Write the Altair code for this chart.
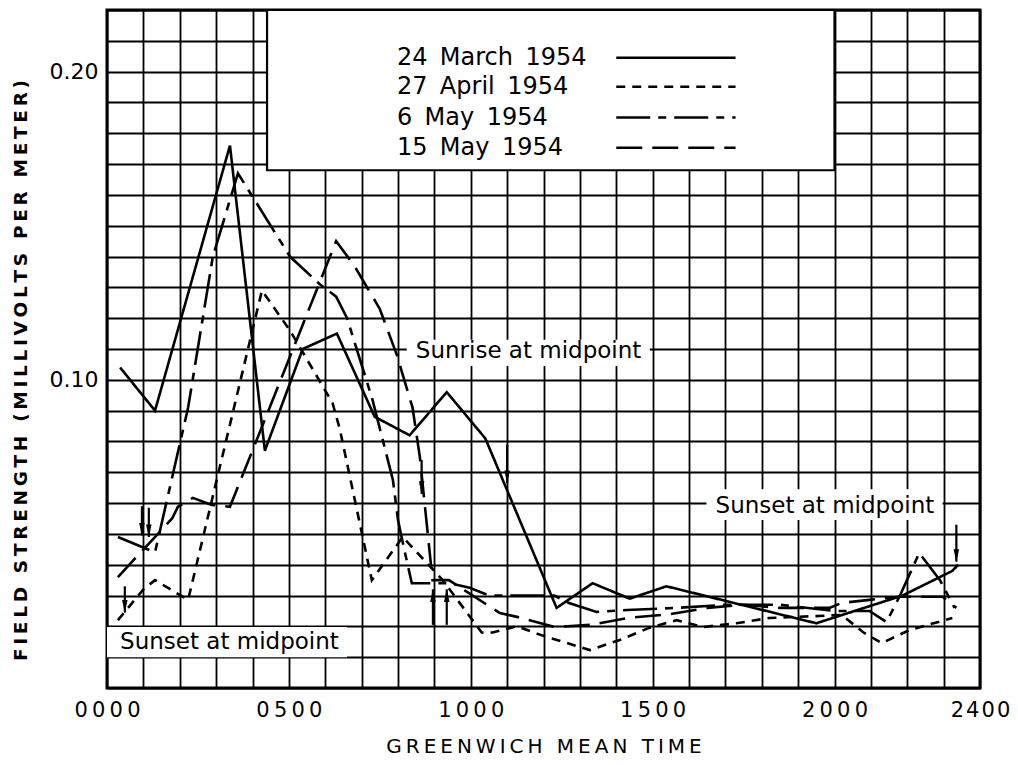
import altair as alt
import pandas as pd

SERIES = ["24 March 1954", "27 April 1954", "6 May 1954", "15 May 1954"]
DASHES = [[1, 0], [9, 7], [34, 8, 8, 8], [26, 10]]

# 24 March 1954 (solid)
mar24_h = [0.36, 1.32, 3.38, 4.34, 5.38, 6.32, 7.36, 8.32, 9.34, 10.4, 12.36, 13.35, 14.37, 15.38, 19.5, 21.87, 23.24, 23.4]
mar24_v = [0.104, 0.090, 0.176, 0.077, 0.110, 0.115, 0.088, 0.082, 0.096, 0.081, 0.026, 0.034, 0.029, 0.033, 0.021, 0.030, 0.038, 0.040]
# 27 April 1954 (short dashes)
apr27_h = [0.3, 1.0, 1.32, 2.23, 4.26, 5.03, 6.2, 6.4, 7.28, 8.13, 9.23, 10.3, 10.6, 11.26, 11.98, 13.27, 14.1, 14.9, 15.66, 16.4, 17.3, 18.2, 20.2, 20.8, 21.3, 22.06, 23.24]
apr27_v = [0.022, 0.032, 0.035, 0.0286, 0.129, 0.116, 0.0925, 0.084, 0.035, 0.049, 0.035, 0.018, 0.018, 0.020, 0.017, 0.0123, 0.0156, 0.0195, 0.022, 0.0198, 0.021, 0.0227, 0.0237, 0.018, 0.0146, 0.0188, 0.0227]
# 6 May 1954 (long dash - short dash)
may06_h = [0.3, 1.32, 2.23, 2.91, 3.6, 5.03, 5.85, 6.3, 6.6, 7.3, 7.58, 7.86, 8.0, 8.19, 8.38, 8.65, 9.42, 9.97, 10.5, 12.3, 12.7, 13.46, 14.3, 15.66, 17.0, 18.5, 20.0, 20.96, 21.43, 21.8, 22.33, 22.9, 23.3]
may06_v = [0.049, 0.044, 0.091, 0.140, 0.167, 0.140, 0.131, 0.127, 0.120, 0.0935, 0.0805, 0.0675, 0.0545, 0.044, 0.034, 0.034, 0.034, 0.0325, 0.030, 0.030, 0.0276, 0.0247, 0.0253, 0.026, 0.027, 0.027, 0.025, 0.025, 0.0214, 0.030, 0.0438, 0.035, 0.026]
# 15 May 1954 (long dashes)
may15_h = [0.3, 1.79, 1.95, 2.36, 2.88, 3.38, 6.3, 6.8, 7.5, 7.97, 8.4, 8.6, 8.95, 9.4, 10.8, 11.3, 12.3, 13.3, 14.3, 15.5, 16.5, 17.5, 18.5, 19.86, 20.2, 20.96, 21.8, 22.97, 23.35]
may15_v = [0.036, 0.055, 0.0588, 0.0617, 0.0594, 0.0588, 0.145, 0.137, 0.123, 0.108, 0.091, 0.075, 0.035, 0.035, 0.0243, 0.023, 0.0198, 0.0205, 0.0227, 0.024, 0.026, 0.027, 0.026, 0.026, 0.0276, 0.0286, 0.0296, 0.0296, 0.026]

# legend placement inside the white box
legend_x0, legend_x1, legend_text_x = 14.0, 17.28, 7.97
legend_y = [0.2045, 0.1951, 0.1851, 0.1753]

# annotations
notes = ["Sunrise at midpoint", "Sunset at midpoint", "Sunset at midpoint"]
note_x = [8.49, 16.73, 0.36]
note_y = [0.1095, 0.0592, 0.0149]
box_x = [8.24, 16.48, 0.0]
box_x2 = [14.92, 22.97, 6.6]
box_y = [0.1045, 0.0545, 0.0100]
box_y2 = [0.1130, 0.0645, 0.0198]

# arrows (hour, stem start, tip, direction)
arr_h = [0.49, 0.96, 1.15, 8.65, 8.96, 9.34, 11.0, 23.35]
arr_top = [0.0330, 0.0590, 0.0585, 0.0740, 0.0205, 0.0205, 0.0790, 0.0530]
arr_tip = [0.0245, 0.0495, 0.0490, 0.0630, 0.0320, 0.0320, 0.0665, 0.0410]
arr_dir = ["down", "down", "down", "down", "up", "up", "down", "down"]

rows = []
for name, hs, vs in zip(SERIES, [mar24_h, apr27_h, may06_h, may15_h], [mar24_v, apr27_v, may06_v, may15_v]):
    for i, (h, v) in enumerate(zip(hs, vs)):
        rows.append({"series": name, "h": h, "v": v, "i": i})
df = pd.DataFrame(rows)

leg = pd.DataFrame({"series": SERIES, "x0": [legend_x0] * 4, "x1": [legend_x1] * 4,
                    "tx": [legend_text_x] * 4, "y": legend_y,
                    "label": [s.replace(" ", "\u2009 ") for s in SERIES]})
notes_df = pd.DataFrame({"t": notes, "x": note_x, "y": note_y})
boxes = pd.DataFrame({"x": box_x, "x2": box_x2, "y": box_y, "y2": box_y2})
arrows = pd.DataFrame({"h": arr_h, "top": arr_top, "tip": arr_tip, "dir": arr_dir})

FONT = "DejaVu Sans"
TS = "\u2009"
HS = "\u200a"

x_labels = {0: TS.join("0000"), 5: TS.join("0500"), 10: TS.join("1000"), 15: TS.join("1500"),
            20: TS.join("2000"), 24: HS.join("2400")}
x_expr = "".join(f"datum.value == {k} ? '{v}' : " for k, v in x_labels.items()) + "''"
y_expr = "abs(datum.value - 0.1) < 0.001 ? '0.10' : abs(datum.value - 0.2) < 0.001 ? '0.20' : ''"


def spaced(s):
    return ("\u2009 \u2009").join(TS.join(w) for w in s.split(" "))


xscale = alt.Scale(domain=[0, 24], nice=False, zero=False)
yscale = alt.Scale(domain=[0, 0.22], nice=False, zero=False)

XAXIS = alt.Axis(values=list(range(25)), grid=True, gridColor="black", gridWidth=1.8, gridOpacity=1,
                 ticks=False, domain=False, labelExpr=x_expr, labelFlush=False,
                 labelFont=FONT, labelFontSize=21, labelColor="black", labelPadding=11,
                 labelOverlap=False,
                 title=spaced("GREENWICH MEAN TIME"), titleFont=FONT, titleFontSize=20,
                 titleFontWeight="normal", titleColor="black", titlePadding=16)
YAXIS = alt.Axis(values=[i / 100 for i in range(23)], grid=True, gridColor="black", gridWidth=1.8,
                 gridOpacity=1, ticks=False, domain=False, labelExpr=y_expr, labelFlush=False,
                 labelFont=FONT, labelFontSize=22, labelColor="black", labelPadding=9,
                 labelOverlap=False,
                 title=spaced("FIELD STRENGTH (MILLIVOLTS PER METER)"), titleFont=FONT,
                 titleFontSize=18.5, titleFontWeight="bold", titleColor="black",
                 titleAngle=270, titleX=-87, titleY=360, titleAlign="center",
                 titleBaseline="middle")


def xs(f):
    return alt.X(f, scale=xscale, axis=XAXIS)


def ys(f):
    return alt.Y(f, scale=yscale, axis=YAXIS)


dash_scale = alt.Scale(domain=SERIES, range=DASHES)

legend_box = alt.Chart(pd.DataFrame({"x": [4.4], "x2": [20.0], "y": [0.168], "y2": [0.22]})).mark_rect(
    fill="white", stroke="black", strokeWidth=2.2).encode(
    x=xs("x:Q"), x2="x2:Q", y=ys("y:Q"), y2="y2:Q")

note_boxes = alt.Chart(boxes).mark_rect(fill="white").encode(
    x=xs("x:Q"), x2="x2:Q", y=ys("y:Q"), y2="y2:Q")

lines = alt.Chart(df).mark_line(color="black", strokeWidth=2.6, strokeCap="butt", strokeJoin="miter").encode(
    x=xs("h:Q"), y=ys("v:Q"),
    strokeDash=alt.StrokeDash("series:N", scale=dash_scale, legend=None),
    detail="series:N", order="i:Q")

leg_lines = alt.Chart(leg).mark_rule(color="black", strokeWidth=2.6).encode(
    x=xs("x0:Q"), x2="x1:Q", y=ys("y:Q"),
    strokeDash=alt.StrokeDash("series:N", scale=dash_scale, legend=None))

leg_text = alt.Chart(leg).mark_text(align="left", baseline="middle", font=FONT, fontSize=24,
                                    color="black").encode(
    x=xs("tx:Q"), y=ys("y:Q"), text="label:N")

note_text = alt.Chart(notes_df).mark_text(align="left", baseline="middle", font=FONT, fontSize=23,
                                          color="black").encode(
    x=xs("x:Q"), y=ys("y:Q"), text="t:N")

arrow_stem = alt.Chart(arrows).mark_rule(color="black", strokeWidth=2.2).encode(
    x=xs("h:Q"), y=ys("top:Q"), y2="tip:Q")

DOWN = "M-0.42,-1L0.42,-1L0,1Z"
UP = "M-0.42,1L0.42,1L0,-1Z"
arrow_down = alt.Chart(arrows).transform_filter("datum.dir == 'down'").mark_point(
    filled=True, color="black", size=170, opacity=1, shape=DOWN, yOffset=-6).encode(
    x=xs("h:Q"), y=ys("tip:Q"))
arrow_up = alt.Chart(arrows).transform_filter("datum.dir == 'up'").mark_point(
    filled=True, color="black", size=170, opacity=1, shape=UP, yOffset=6).encode(
    x=xs("h:Q"), y=ys("tip:Q"))

chart = alt.layer(legend_box, note_boxes, lines, leg_lines, leg_text, note_text,
                  arrow_stem, arrow_down, arrow_up).properties(
    width=873, height=678,
    autosize=alt.AutoSizeParams(type="none"),
    padding={"left": 99, "top": 2, "right": 30, "bottom": 69},
).configure(background="white", view=alt.ViewConfig(stroke="black", strokeWidth=3))

chart.save("out.html", embed_options={"renderer": "svg", "actions": False})
